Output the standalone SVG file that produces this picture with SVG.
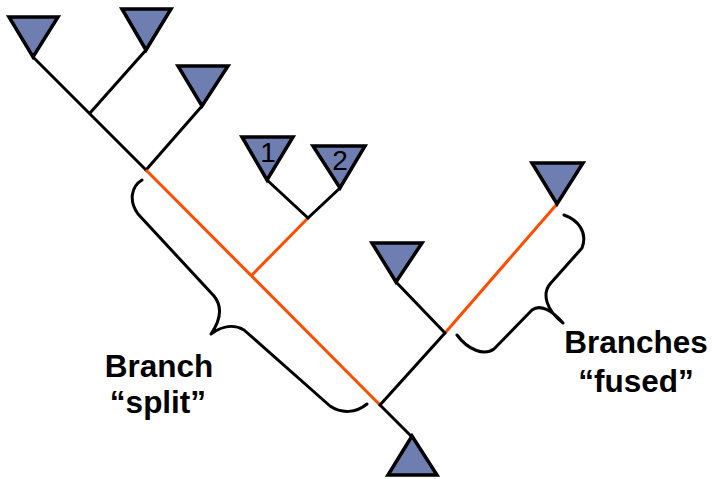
<svg xmlns="http://www.w3.org/2000/svg" width="712" height="479" viewBox="0 0 712 479">
<style>
.tri{fill:#6e7eb0;stroke:#000;stroke-width:3.5;stroke-linejoin:miter}
.blk{stroke:#000;stroke-width:3;fill:none;stroke-linecap:round}
.org{stroke:#ff4d00;stroke-width:3;fill:none}
.brace{stroke:#000;stroke-width:3;fill:none;stroke-linecap:round;stroke-linejoin:round}
.lbl{font-family:"Liberation Sans",Arial,sans-serif;font-weight:bold;font-size:31.5px;fill:#000;text-anchor:middle}
.num{font-family:"Liberation Sans",Arial,sans-serif;font-size:28px;fill:#000;text-anchor:middle}
</style>
<rect width="712" height="479" fill="#fff"/>
<g id="connectors">
<line class="blk" x1="33" y1="57" x2="146" y2="170"/>
<line class="blk" x1="146" y1="50" x2="90" y2="113"/>
<line class="blk" x1="202" y1="106" x2="146" y2="170"/>
<line class="org" x1="146" y1="170" x2="380" y2="405"/>
<line class="org" x1="252" y1="275" x2="308" y2="218"/>
<line class="blk" x1="267" y1="180" x2="308" y2="218"/>
<line class="blk" x1="340" y1="188" x2="308" y2="218"/>
<line class="org" x1="557" y1="204" x2="445" y2="333"/>
<line class="blk" x1="396" y1="282" x2="445" y2="333"/>
<line class="blk" x1="445" y1="333" x2="380" y2="405"/>
<line class="blk" x1="380" y1="405" x2="412" y2="437"/>
</g>
<g id="leaf-a"><polygon class="tri" points="9,17 58,17 33,57"/></g>
<g id="leaf-b"><polygon class="tri" points="122,9 171,9 146,50"/></g>
<g id="leaf-c"><polygon class="tri" points="178,66 228,66 202,106"/></g>
<g id="leaf-1"><polygon class="tri" points="242,137 293,137 267,180"/><text class="num" x="268" y="162">1</text></g>
<g id="leaf-2"><polygon class="tri" points="313,146 365,146 340,188"/><text class="num" x="340" y="170">2</text></g>
<g id="leaf-d"><polygon class="tri" points="372,243 422,243 396,282"/></g>
<g id="leaf-e"><polygon class="tri" points="532,163 583,163 557,204"/></g>
<g id="root"><polygon class="tri" points="412,436 388,475 437,475"/></g>
<g id="brace-split">
<path class="brace" d="M142,180 C132,186 128,200 138,214 L214,296 C222,306 222,318 211,334 C222,326 234,324 244,330 L330,406 C342,414 356,413 367,404"/>
<text class="lbl" x="159" y="377">Branch</text>
<text class="lbl" x="158" y="413">“split”</text>
</g>
<g id="brace-fused">
<path class="brace" d="M564,215 C578,220 588,232 582,248 L550,284 C542,294 546,310 563,323 C552,310 540,304 532,310 L494,349 C484,356 468,350 457,335"/>
<text class="lbl" x="636" y="353">Branches</text>
<text class="lbl" x="636" y="392">“fused”</text>
</g>
</svg>
